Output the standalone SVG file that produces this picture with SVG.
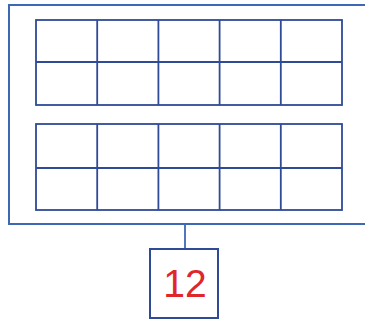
<svg xmlns="http://www.w3.org/2000/svg" width="365" height="325" viewBox="0 0 365 325">
<style>
.outer{fill:none;stroke:#3d68b4;stroke-width:2}
.grid{fill:none;stroke:#2f4a96;stroke-width:1.8}
.box{fill:#fff;stroke:#2f4a96;stroke-width:2}
.lbl{font-family:"Liberation Sans",Arial,sans-serif;font-size:39px;fill:#e0262b;text-anchor:middle}
.conn{stroke:#3d68b4;stroke-width:1.8;fill:none}
</style>
<g id="panel">
<rect class="outer" x="9" y="5" width="370" height="219"/>
</g>
<g id="grid-top">
<rect class="grid" x="36" y="20" width="306" height="85"/>
<line class="grid" x1="36" y1="62" x2="342" y2="62"/>
<line class="grid" x1="97.2" y1="20" x2="97.2" y2="105"/>
<line class="grid" x1="158.4" y1="20" x2="158.4" y2="105"/>
<line class="grid" x1="219.6" y1="20" x2="219.6" y2="105"/>
<line class="grid" x1="280.8" y1="20" x2="280.8" y2="105"/>
</g>
<g id="grid-bottom">
<rect class="grid" x="36" y="124" width="306" height="86"/>
<line class="grid" x1="36" y1="168" x2="342" y2="168"/>
<line class="grid" x1="97.2" y1="124" x2="97.2" y2="210"/>
<line class="grid" x1="158.4" y1="124" x2="158.4" y2="210"/>
<line class="grid" x1="219.6" y1="124" x2="219.6" y2="210"/>
<line class="grid" x1="280.8" y1="124" x2="280.8" y2="210"/>
</g>
<g id="connectors">
<line class="conn" x1="185" y1="225" x2="185" y2="249"/>
</g>
<g id="node-12">
<rect class="box" x="150" y="249" width="68" height="69"/>
<text class="lbl" x="185" y="297">12</text>
</g>
</svg>
